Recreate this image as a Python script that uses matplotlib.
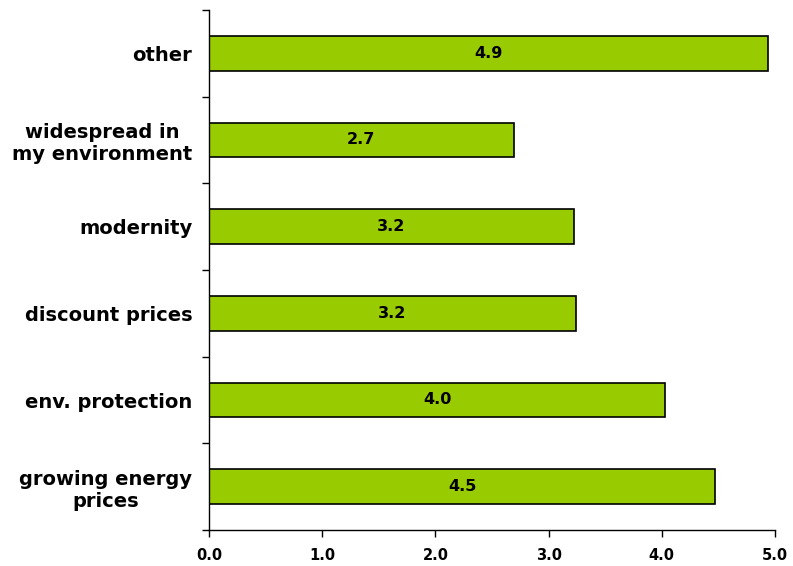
import matplotlib
matplotlib.use("Agg")
import matplotlib.pyplot as plt
import numpy as np

# categories bottom to top
categories = ["growing energy\nprices", "env. protection", "discount prices",
              "modernity", "widespread in\nmy environment", "other"]
values = [4.47, 4.03, 3.24, 3.22, 2.69, 4.94]
labels = ["4.5", "4.0", "3.2", "3.2", "2.7", "4.9"]
xticks = [0.0, 1.0, 2.0, 3.0, 4.0, 5.0]

fig = plt.figure(figsize=(7.93, 5.66), dpi=100)
ax = fig.add_axes([209/793, 1 - 530/566, (775 - 209)/793, 520/566])

ypos = np.arange(len(categories))
ax.barh(ypos, values, height=0.4, color="#99CC00", edgecolor="black", linewidth=1.2)

for y, v, lab in zip(ypos, values, labels):
    ax.text(v / 2, y, lab, ha="center", va="center", fontsize=11.5, fontweight="bold")

ax.set_xlim(0, 5)
ax.set_ylim(-0.5, len(categories) - 0.5)
ax.set_xticks(xticks)
ax.set_xticklabels(["%.1f" % t for t in xticks], fontsize=10.5, fontweight="bold")
ax.set_yticks(ypos)
ax.set_yticklabels(categories, fontsize=14, fontweight="bold", linespacing=1.2)
for t in ax.get_yticklabels():
    t.set_multialignment("center")
ax.set_yticks(np.arange(-0.5, len(categories)), minor=True)

ax.tick_params(axis="y", which="major", length=0, pad=12)
ax.tick_params(axis="y", which="minor", length=5, width=1, direction="out")
ax.tick_params(axis="x", length=5, width=1, direction="out", pad=8)

for s in ["top", "right"]:
    ax.spines[s].set_visible(False)
for s in ["left", "bottom"]:
    ax.spines[s].set_linewidth(1)

plt.savefig("out.png", dpi=100)
